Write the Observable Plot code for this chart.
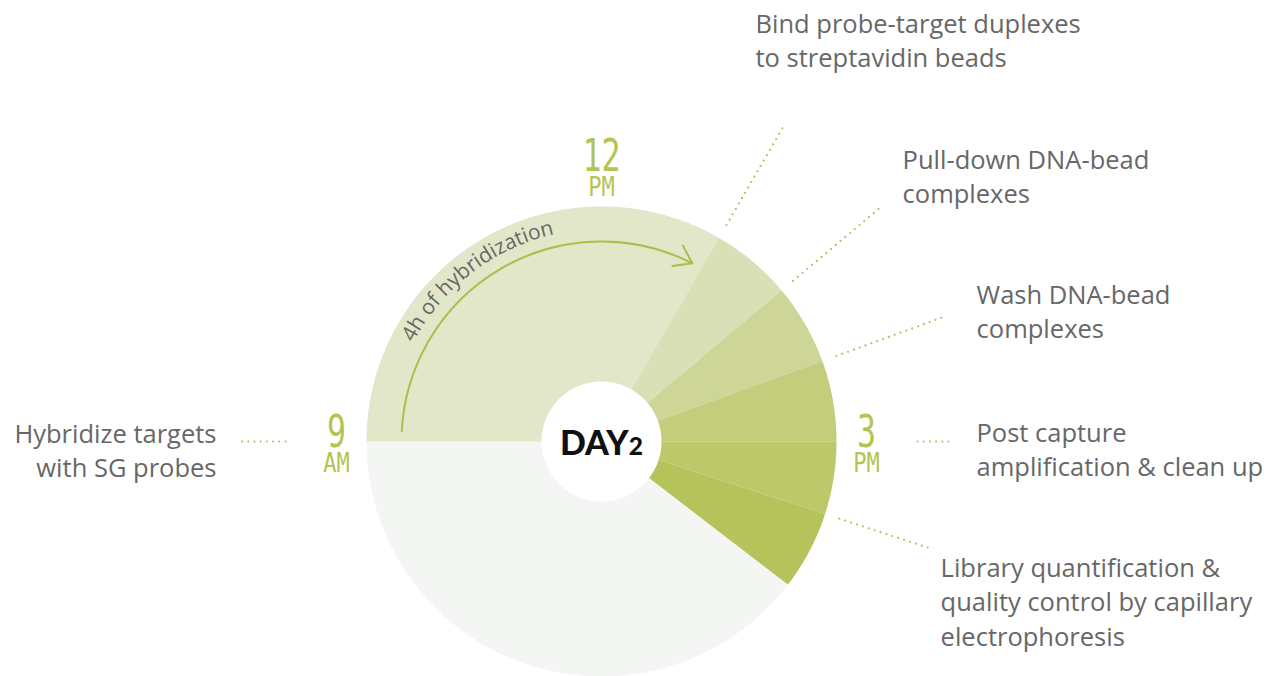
<!DOCTYPE html>
<html><head><meta charset="utf-8">
<script src="https://cdn.jsdelivr.net/npm/d3@7"></script>
<script src="https://cdn.jsdelivr.net/npm/@observablehq/plot@0.6"></script>
<style>
html,body{margin:0;padding:0;background:#fff;}
#chart svg{display:block;}
</style></head><body><div id="chart"></div>
<script>
// ---------------- data ----------------
const steps = [
  "Hybridize targets\nwith SG probes",
  "Bind probe-target duplexes\nto streptavidin beads",
  "Pull-down DNA-bead\ncomplexes",
  "Wash DNA-bead\ncomplexes",
  "Post capture\namplification & clean up",
  "Library quantification &\nquality control by capillary\nelectrophoresis"
];
const startTimes = ["9:00", "13:00", "13:40", "14:20", "15:00", "15:36"];
const endTimes   = ["13:00", "13:40", "14:20", "15:00", "15:36", "16:15"];
const clockHours   = [9, 12, 15];
const clockDigits  = ["9", "12", "3"];
const clockPeriods = ["AM", "PM", "PM"];
const dayLabel = "DAY2";
const arcLabel = "4h of hybridization";

// ---------------- styles / layout ----------------
const palette = ["#e2e7c9", "#d9e0b6", "#cdd697", "#c3cd7c", "#bdc86b", "#b6c25a"];
const discColor = "#f4f6f4";
const green = "#a9be4c";
const dotGreen = "#adc25a";
const digitGreen = "#b4c453";
const textGray = "#676767";
const FONT = "Open Sans";
const MONO = "DejaVu Sans Mono";
const R = 235, R_HUB = 60;           // radii in px-units
const S = 0.1;                         // degrees of latitude per px-unit
const labelLayout = [
  {r0: 316, r1: 363, dx: -22, dy: -23.5, anchor: "end"},
  {r0: 250, r1: 363, dx: -27.5, dy: -119, anchor: "start"},
  {r0: 250, r1: 363, dx: 23, dy: -64, anchor: "start"},
  {r0: 250, r1: 363, dx: 34, dy: -38, anchor: "start"},
  {r0: 316, r1: 350, dx: 25, dy: -24.5, anchor: "start"},
  {r0: 250, r1: 345, dx: 11, dy: 4, anchor: "start"}
];

// ---------------- helpers (polar via azimuthal projection) ----------------
const toMin = t => { const [h, m] = t.split(":").map(Number); return h * 60 + m; };
const angle = t => ((toMin(t) / 60) % 12) * 30;      // clockwise from 12 o'clock
const lon = a => 180 - a;
const lat = r => 90 - r * S;
const pt = (a, r) => [lon(a), lat(r)];
function wedge(a0, a1, r0, r1) {
  if (a1 <= a0) a1 += 360;
  const ring = [];
  for (let a = a0; a < a1; a += 0.5) ring.push(pt(a, r1));
  ring.push(pt(a1, r1));
  for (let a = a1; a > a0; a -= 0.5) ring.push(pt(a, r0));
  ring.push(pt(a0, r0));
  ring.push(ring[0]);
  let g = {type: "Polygon", coordinates: [ring]};
  if (d3.geoArea(g) > 2 * Math.PI) g = {type: "Polygon", coordinates: [ring.slice().reverse()]};
  return g;
}

const segFeatures = steps.map((s, i) => ({
  type: "Feature",
  properties: {step: s},
  geometry: wedge(angle(startTimes[i]), angle(endTimes[i]), 40, R)
}));
const disc = d3.geoCircle().center([0, 90]).radius(R * S).precision(0.5)();
const hub = d3.geoCircle().center([0, 90]).radius(R_HUB * S).precision(0.5)();

const leaders = steps.map((s, i) => {
  const a = angle(startTimes[i]);
  const L = labelLayout[i];
  return {step: s, lon: lon(a), lat0: lat(L.r0), lat1: lat(L.r1), L};
});

const clockMarks = clockHours.map((h, i) => {
  const a = (h % 12) * 30;
  const r = a === 0 ? 276 : 265;
  return {lon: lon(a), lat: lat(r), digit: clockDigits[i], period: clockPeriods[i]};
});

// hybridization arrow and its curved label
const hybStart = angle(startTimes[0]), hybEnd = angle(endTimes[0]) + 360;
const arrowSpec = {x1: lon(hybStart + 3), y1: lat(200), x2: lon(hybEnd - 3), y2: lat(200)};
const arrowBend = (hybEnd - hybStart - 6) / 2;
const textArc = d3.range(285, 360.5, 1).map(a => ({lon: lon(a), lat: lat(212)}));

const labelMarks = leaders.map(d => Plot.text([d], {
  x: "lon", y: "lat1", text: "step",
  dx: d.L.dx, dy: d.L.dy, textAnchor: d.L.anchor, lineAnchor: "top", lineHeight: 34.5 / 25.5,
  fontFamily: FONT, fontSize: 25.5, fill: textGray
}));

const chart = Plot.plot({
  width: 1271, height: 676,
  marginLeft: 366, marginRight: 435, marginTop: 206, marginBottom: 0,
  projection: {type: "azimuthal-equidistant", rotate: [0, -90], domain: disc, clip: false},
  color: {type: "ordinal", domain: steps, range: palette},
  style: {fontFamily: FONT, background: "white"},
  marks: [
    Plot.geo([disc], {fill: discColor}),
    Plot.geo(segFeatures, {fill: d => d.properties.step}),
    Plot.geo([hub], {fill: "white"}),
    Plot.line(textArc, {x: "lon", y: "lat", stroke: "#fffffe", strokeOpacity: 0, strokeWidth: 0.01}),
    Plot.arrow([arrowSpec], {x1: "x1", y1: "y1", x2: "x2", y2: "y2", bend: arrowBend,
      stroke: green, strokeWidth: 2, headLength: 15, headAngle: 70}),
    Plot.link(leaders, {x1: "lon", y1: "lat0", x2: "lon", y2: "lat1",
      stroke: dotGreen, strokeWidth: 2.2, strokeDasharray: "0 6.2", strokeLinecap: "round"}),
    ...labelMarks,
    Plot.text(clockMarks, {x: "lon", y: "lat", text: "digit", dy: 5, lineAnchor: "bottom",
      fontFamily: MONO, fontSize: 44, fill: digitGreen}),
    Plot.text(clockMarks, {x: "lon", y: "lat", text: "period", dy: 30, lineAnchor: "bottom",
      fontFamily: MONO, fontSize: 26, fill: digitGreen}),
    Plot.text([dayLabel], {x: () => 0, y: () => 90, text: d => d, dy: 3,
      fontFamily: "Lato", fontWeight: 900, fontSize: 34, fill: "#111"})
  ]
});
document.getElementById("chart").append(chart);

// ---------------- post-processing ----------------
const svg = d3.select(chart);
function squash(node, k) {
  const t = node.getAttribute("transform");
  if (t && /translate/.test(t)) node.setAttribute("transform", t + ` scale(${k},1)`);
  else {
    const x = parseFloat(node.getAttribute("x")) || 0, y = parseFloat(node.getAttribute("y")) || 0;
    node.removeAttribute("x"); node.removeAttribute("y");
    node.setAttribute("transform", `${t || ""} translate(${x},${y}) scale(${k},1)`);
  }
}
svg.selectAll("text").each(function () {
  const s = this.textContent;
  if (this.getAttribute("font-family") === MONO || this.closest(`[font-family="${MONO}"]`)) {
    if (clockDigits.includes(s)) squash(this, 0.72);
    else if (clockPeriods.includes(s)) squash(this, 0.85);
  }
});
svg.selectAll("text").filter(function () { return this.textContent === dayLabel; }).each(function () {
  const t = d3.select(this);
  t.text(dayLabel.slice(0, 3));
  t.append("tspan").attr("font-size", "0.72em").text(dayLabel.slice(3));
});
const arcPath = svg.selectAll("path").filter(function () {
  const g = this.closest("[stroke]");
  return (this.getAttribute("stroke") === "#fffffe") || (g && g.getAttribute("stroke") === "#fffffe");
}).node();
if (arcPath) {
  arcPath.setAttribute("id", "hybPath");
  svg.append("text")
    .attr("font-family", FONT).attr("font-size", 21).attr("fill", textGray)
    .attr("text-anchor", "middle")
    .append("textPath").attr("href", "#hybPath").attr("startOffset", "50%").text(arcLabel);
}
</script>
</body></html>
